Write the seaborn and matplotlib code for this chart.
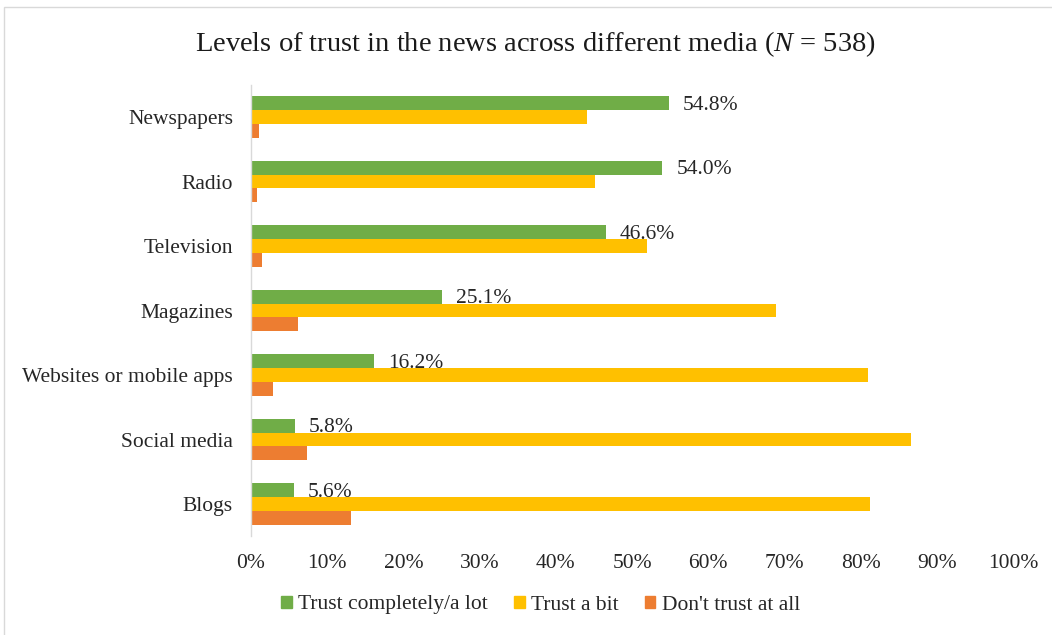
import matplotlib
matplotlib.use("Agg")
import matplotlib.pyplot as plt
import matplotlib.patches as mpatches
import seaborn as sns
import pandas as pd

media = ["Newspapers", "Radio", "Television", "Magazines",
         "Websites or mobile apps", "Social media", "Blogs"]
trust_lot = [54.8, 54.0, 46.6, 25.1, 16.2, 5.8, 5.6]
trust_bit = [44.1, 45.1, 52.0, 68.9, 81.0, 86.6, 81.2]
no_trust = [1.0, 0.8, 1.4, 6.2, 2.9, 7.3, 13.1]
series = ["Trust completely/a lot", "Trust a bit", "Don't trust at all"]
colors = ["#70AD47", "#FFC000", "#ED7D31"]
xticks = [0, 10, 20, 30, 40, 50, 60, 70, 80, 90, 100]

rows = []
for s, vals in zip(series, [trust_lot, trust_bit, no_trust]):
    for m, v in zip(media, vals):
        rows.append({"Media": m, "Series": s, "Value": v})
df = pd.DataFrame(rows)

sns.set_theme(style="white")
plt.rcParams["font.family"] = ["Liberation Serif", "DejaVu Serif"]
plt.rcParams["mathtext.fontset"] = "custom"
plt.rcParams["mathtext.rm"] = "Liberation Serif"
plt.rcParams["mathtext.it"] = "Liberation Serif:italic"

fig = plt.figure(figsize=(10.52, 6.35), dpi=100)
ax = fig.add_axes([251/1052, 1-536.25/635, (1013-251)/1052, (536.25-84.75)/635])

sns.barplot(data=df, y="Media", x="Value", hue="Series", order=media,
            hue_order=series, palette=colors, orient="h", width=0.64,
            ax=ax, saturation=1, legend=False, errorbar=None, linewidth=0)

# labels on green bars
green = ax.containers[0]
for bar, v in zip(green, trust_lot):
    ax.text(bar.get_width() + 1.8, bar.get_y() + bar.get_height()/2 + 0.03,
            f"{v:.1f}%", va="center", ha="left", fontsize=15.5, color="#262626")

ax.set_xlim(0, 100)
ax.set_ylim(6.5, -0.5)
ax.set_xticks(xticks)
ax.set_xticklabels([f"{t}%" for t in xticks], fontsize=15.5, color="#262626")
ax.tick_params(axis="y", labelsize=15.5, labelcolor="#262626", length=0, pad=13)
ax.tick_params(axis="x", length=0, pad=13)
ax.set_xlabel("")
ax.set_ylabel("")
for sp in ["top", "right", "bottom"]:
    ax.spines[sp].set_visible(False)
ax.spines["left"].set_color("#d9d9d9")
ax.spines["left"].set_linewidth(1.0)

handles = [mpatches.Patch(color=c, label=s) for c, s in zip(colors, series)]
fig.legend(handles=handles, loc="center", bbox_to_anchor=(0.514, 1-605/635),
           ncol=3, frameon=False, fontsize=15.5, handlelength=0.5,
           handleheight=0.5, handletextpad=0.3, columnspacing=1.2)

fig.text(0.509, 1-44/635,
         r"Levels of trust in the news across different media ($\mathit{N}$ = 538)",
         ha="center", va="center", fontsize=20.5, color="#1a1a1a")

fig.patches.append(mpatches.Rectangle((4/1052, -0.01), 1.0, 1-7/635+0.01,
                                      transform=fig.transFigure, fill=False,
                                      edgecolor="#d9d9d9", linewidth=1.0))

fig.savefig("out.png", dpi=100)
